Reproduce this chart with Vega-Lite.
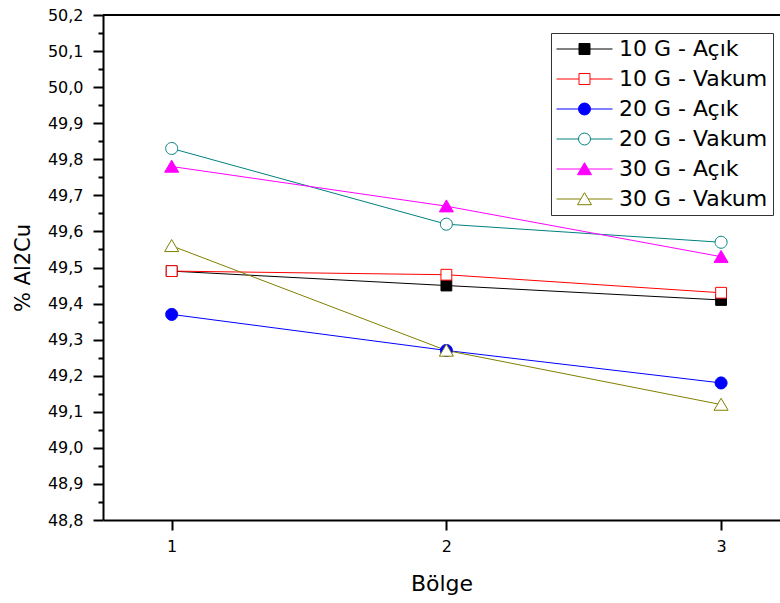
{
  "$schema": "https://vega.github.io/schema/vega-lite/v6.json",
  "width": 677,
  "height": 505,
  "autosize": {"type": "none"},
  "padding": {"left": 103, "top": 15, "right": 0, "bottom": 83},
  "background": "white",
  "config": {
    "font": "DejaVu Sans",
    "view": {"stroke": null},
    "axis": {"grid": false, "labelColor": "black", "titleColor": "black", "domainColor": "black", "tickColor": "black", "labelFont": "DejaVu Sans", "titleFont": "DejaVu Sans", "titleFontWeight": "normal"},
    "legend": {
      "orient": "none",
      "legendX": 448,
      "legendY": 18,
      "strokeColor": "#333333",
      "fillColor": "white",
      "padding": 5,
      "labelFontSize": 22,
      "labelFont": "DejaVu Sans",
      "labelColor": "black",
      "labelOffset": 6,
      "rowPadding": 8,
      "clipHeight": 22,
      "symbolSize": 3136,
      "symbolStrokeWidth": 1,
      "symbolOpacity": 1
    }
  },
  "data": {
    "values": [
      {"series": "10 G - Açık", "x": 1, "y": 49.49},
      {"series": "10 G - Açık", "x": 2, "y": 49.45},
      {"series": "10 G - Açık", "x": 3, "y": 49.41},
      {"series": "10 G - Vakum", "x": 1, "y": 49.49},
      {"series": "10 G - Vakum", "x": 2, "y": 49.48},
      {"series": "10 G - Vakum", "x": 3, "y": 49.43},
      {"series": "20 G - Açık", "x": 1, "y": 49.37},
      {"series": "20 G - Açık", "x": 2, "y": 49.27},
      {"series": "20 G - Açık", "x": 3, "y": 49.18},
      {"series": "20 G - Vakum", "x": 1, "y": 49.83},
      {"series": "20 G - Vakum", "x": 2, "y": 49.62},
      {"series": "20 G - Vakum", "x": 3, "y": 49.57},
      {"series": "30 G - Açık", "x": 1, "y": 49.78},
      {"series": "30 G - Açık", "x": 2, "y": 49.67},
      {"series": "30 G - Açık", "x": 3, "y": 49.53},
      {"series": "30 G - Vakum", "x": 1, "y": 49.56},
      {"series": "30 G - Vakum", "x": 2, "y": 49.27},
      {"series": "30 G - Vakum", "x": 3, "y": 49.12}
    ]
  },
  "encoding": {
    "x": {
      "field": "x", "type": "quantitative",
      "scale": {"domain": [0.75, 3.2145], "nice": false, "zero": false},
      "axis": {"values": [1, 2, 3], "title": "Bölge", "titleFontSize": 22, "titlePadding": 19, "labelFontSize": 16, "tickSize": 10, "tickWidth": 2, "domainWidth": 2, "labelPadding": 8}
    },
    "y": {
      "field": "y", "type": "quantitative",
      "scale": {"domain": [48.8, 50.2], "nice": false, "zero": false},
      "axis": {
        "values": [48.8, 48.85, 48.9, 48.95, 49.0, 49.05, 49.1, 49.15, 49.2, 49.25, 49.3, 49.35, 49.4, 49.45, 49.5, 49.55, 49.6, 49.65, 49.7, 49.75, 49.8, 49.85, 49.9, 49.95, 50.0, 50.05, 50.1, 50.15, 50.2],
        "labelExpr": "round(datum.value * 100) % 10 != 0 ? '' : replace(format(datum.value, '.1f'), '.', ',')",
        "labelOverlap": false,
        "title": "% Al2Cu", "titleFontSize": 21, "titlePadding": 14, "labelFontSize": 16,
        "tickSize": {"condition": {"test": "round(datum.value * 100) % 10 != 0", "value": 5}, "value": 10},
        "tickWidth": 2, "domainWidth": 2, "labelPadding": 10
      }
    }
  },
  "resolve": {"scale": {"shape": "independent", "fill": "independent", "stroke": "independent"}},
  "layer": [
    {
      "mark": {"type": "rule", "color": "black", "strokeWidth": 2},
      "encoding": {
        "x": {"datum": 0.75},
        "x2": {"datum": 3.2145},
        "y": {"datum": 50.2}
      }
    },
    {
      "mark": {"type": "line", "strokeWidth": 1},
      "encoding": {
        "color": {
          "field": "series", "type": "nominal",
          "scale": {"domain": ["10 G - Açık", "10 G - Vakum", "20 G - Açık", "20 G - Vakum", "30 G - Açık", "30 G - Vakum"], "range": ["#000000", "#ff0000", "#0000ff", "#008080", "#ff00ff", "#808000"]},
          "legend": null
        }
      }
    },
    {
      "mark": {"type": "point", "strokeWidth": 1, "opacity": 1, "size": 144},
      "encoding": {
        "shape": {
          "field": "series", "type": "nominal",
          "scale": {"domain": ["10 G - Açık", "10 G - Vakum", "20 G - Açık", "20 G - Vakum", "30 G - Açık", "30 G - Vakum"], "range": ["M-0.9,-0.9H0.9V0.9H-0.9Z", "M-0.9,-0.9H0.9V0.9H-0.9Z", "M1,0A1,1,0,1,1,-1,0A1,1,0,1,1,1,0Z", "M1,0A1,1,0,1,1,-1,0A1,1,0,1,1,1,0Z", "M0,-1.05L1.17,0.95L-1.17,0.95Z", "M0,-1.05L1.17,0.95L-1.17,0.95Z"]},
          "legend": null
        },
        "stroke": {
          "field": "series", "type": "nominal",
          "scale": {"domain": ["10 G - Açık", "10 G - Vakum", "20 G - Açık", "20 G - Vakum", "30 G - Açık", "30 G - Vakum"], "range": ["#000000", "#ff0000", "#0000ff", "#008080", "#ff00ff", "#808000"]},
          "legend": null
        },
        "fill": {
          "field": "series", "type": "nominal",
          "scale": {"domain": ["10 G - Açık", "10 G - Vakum", "20 G - Açık", "20 G - Vakum", "30 G - Açık", "30 G - Vakum"], "range": ["#000000", "#ffffff", "#0000ff", "#ffffff", "#ff00ff", "#ffffff"]},
          "legend": null
        }
      }
    },
    {
      "transform": [{"filter": "datum.x > 100"}],
      "mark": {"type": "point", "strokeWidth": 1, "opacity": 1, "size": 3136},
      "encoding": {
        "shape": {
          "field": "series", "type": "nominal",
          "scale": {"domain": ["10 G - Açık", "10 G - Vakum", "20 G - Açık", "20 G - Vakum", "30 G - Açık", "30 G - Vakum"], "range": [
            "M-1,0H-0.196M0.196,0H1M-0.196,-0.196H0.196V0.196H-0.196Z",
            "M-1,0H-0.196M0.196,0H1M-0.196,-0.196H0.196V0.196H-0.196Z",
            "M-1,0H-0.214M0.214,0H1M0.214,0A0.214,0.214,0,1,1,-0.214,0A0.214,0.214,0,1,1,0.214,0Z",
            "M-1,0H-0.214M0.214,0H1M0.214,0A0.214,0.214,0,1,1,-0.214,0A0.214,0.214,0,1,1,0.214,0Z",
            "M-1,0H-0.131M0.131,0H1M0,-0.225L0.25,0.2036L-0.25,0.2036Z",
            "M-1,0H-0.131M0.131,0H1M0,-0.225L0.25,0.2036L-0.25,0.2036Z"]},
          "legend": {"title": null}
        },
        "stroke": {
          "field": "series", "type": "nominal",
          "scale": {"domain": ["10 G - Açık", "10 G - Vakum", "20 G - Açık", "20 G - Vakum", "30 G - Açık", "30 G - Vakum"], "range": ["#000000", "#ff0000", "#0000ff", "#008080", "#ff00ff", "#808000"]},
          "legend": {"title": null}
        },
        "fill": {
          "field": "series", "type": "nominal",
          "scale": {"domain": ["10 G - Açık", "10 G - Vakum", "20 G - Açık", "20 G - Vakum", "30 G - Açık", "30 G - Vakum"], "range": ["#000000", "#ffffff", "#0000ff", "#ffffff", "#ff00ff", "#ffffff"]},
          "legend": {"title": null}
        }
      }
    }
  ]
}
